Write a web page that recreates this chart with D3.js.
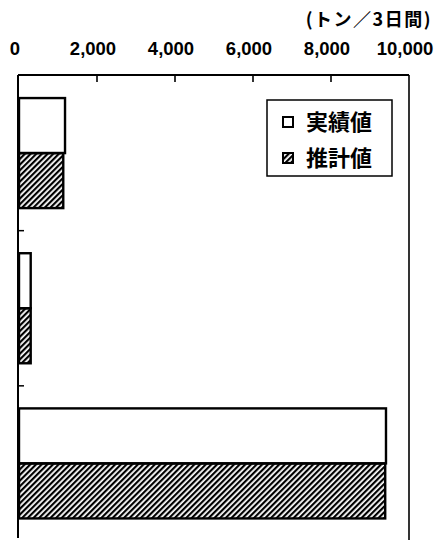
<!DOCTYPE html>
<html>
<head>
<meta charset="utf-8">
<script src="https://cdn.jsdelivr.net/npm/d3@7"></script>
<style>
  body { margin: 0; background: #fff; }
  svg { display: block; }
</style>
</head>
<body>
<div class="chart"></div>
<script>
// data
const categories = ['A', 'B', 'C'];
const seriesNames = ['実績値', '推計値'];
const actualValues = [1180, 300, 9410];
const estimateValues = [1135, 300, 9390];
const xTicks = [0, 2000, 4000, 6000, 8000, 10000];
const unitLabel = '(トン／3日間)';

const width = 437, height = 540;
const plotLeft = 18, plotRight = 409, plotTop = 75, plotBottom = 541;

const svg = d3.select('.chart')
  .append('svg')
    .attr('width', width)
    .attr('height', height);

// hatch pattern
const defs = svg.append('defs');
defs.append('pattern')
    .attr('id', 'hatch')
    .attr('patternUnits', 'userSpaceOnUse')
    .attr('width', 4)
    .attr('height', 4)
    .attr('patternTransform', 'rotate(45)')
  .append('rect')
    .attr('x', 0).attr('y', 0)
    .attr('width', 2.2).attr('height', 4)
    .attr('fill', '#000');

const x = d3.scaleLinear()
  .domain([0, 10000])
  .range([19, plotRight]);

const y0 = d3.scaleBand()
  .domain(categories)
  .range([plotTop + 0.5, plotBottom])
  .padding(0);

const y1 = d3.scaleBand()
  .domain(seriesNames)
  .range([0, y0.bandwidth()])
  .paddingInner(0)
  .paddingOuter(0.41);

const rows = categories.map((c, i) => ({
  cat: c,
  vals: [
    { s: seriesNames[0], v: actualValues[i] },
    { s: seriesNames[1], v: estimateValues[i] }
  ]
}));

// bars
const groups = svg.selectAll('g.cat')
  .data(rows)
  .enter()
  .append('g')
    .attr('class', 'cat')
    .attr('transform', d => `translate(0, ${y0(d.cat)})`);

groups.selectAll('rect')
  .data(d => d.vals)
  .enter()
  .append('rect')
    .attr('x', x(0))
    .attr('y', d => y1(d.s))
    .attr('width', d => x(d.v) - x(0))
    .attr('height', y1.bandwidth())
    .attr('fill', d => d.s === seriesNames[0] ? '#fff' : 'url(#hatch)')
    .attr('stroke', '#000')
    .attr('stroke-width', 2.4);

// frame: top and right
svg.append('line')
    .attr('x1', plotLeft).attr('x2', plotRight)
    .attr('y1', plotTop).attr('y2', plotTop)
    .attr('stroke', '#000').attr('stroke-width', 2);
svg.append('line')
    .attr('x1', plotRight).attr('x2', plotRight)
    .attr('y1', plotTop).attr('y2', height)
    .attr('stroke', '#000').attr('stroke-width', 1.6);

// left axis line + inward ticks at category boundaries
svg.append('line')
    .attr('x1', plotLeft).attr('x2', plotLeft)
    .attr('y1', plotTop).attr('y2', 538)
    .attr('stroke', '#000').attr('stroke-width', 2);

svg.selectAll('line.ytick')
  .data(categories.slice(1))
  .enter()
  .append('line')
    .attr('class', 'ytick')
    .attr('x1', plotLeft).attr('x2', plotLeft + 6)
    .attr('y1', d => y0(d)).attr('y2', d => y0(d))
    .attr('stroke', '#000').attr('stroke-width', 1.5);

// top axis ticks (inward) and labels
svg.selectAll('line.xtick')
  .data(xTicks.slice(1, -1))
  .enter()
  .append('line')
    .attr('class', 'xtick')
    .attr('x1', d => x(d)).attr('x2', d => x(d))
    .attr('y1', plotTop).attr('y2', plotTop + 7)
    .attr('stroke', '#000').attr('stroke-width', 1.6);

svg.selectAll('text.xlabel')
  .data(xTicks)
  .enter()
  .append('text')
    .attr('class', 'xlabel')
    .attr('x', d => x(d) - 4)
    .attr('y', 55)
    .attr('text-anchor', 'middle')
    .style('font-family', '"Liberation Sans", Arial, sans-serif')
    .style('font-weight', 'bold')
    .style('font-size', '18.5px')
    .text(d => d3.format(',')(d));

svg.append('text')
    .attr('x', 432)
    .attr('y', 26)
    .attr('text-anchor', 'end')
    .style('font-family', '"Noto Sans CJK JP", sans-serif')
    .style('font-weight', 'bold')
    .style('font-size', '18px')
    .style('letter-spacing', '1.5px')
    .text(unitLabel);

// legend
const legend = svg.append('g');
legend.append('rect')
    .attr('x', 267).attr('y', 100)
    .attr('width', 125).attr('height', 76)
    .attr('fill', '#fff')
    .attr('stroke', '#000')
    .attr('stroke-width', 1.5);

const legendItems = legend.selectAll('g.item')
  .data(seriesNames)
  .enter()
  .append('g')
    .attr('class', 'item')
    .attr('transform', (d, i) => `translate(283, ${122 + i * 36})`);

legendItems.append('rect')
    .attr('x', 0).attr('y', -5)
    .attr('width', 10).attr('height', 10)
    .attr('fill', (d, i) => i === 0 ? '#fff' : 'url(#hatch)')
    .attr('stroke', '#000')
    .attr('stroke-width', 2);

legendItems.append('text')
    .attr('x', 23)
    .attr('y', 8)
    .style('font-family', '"Noto Sans CJK JP", sans-serif')
    .style('font-weight', 'bold')
    .style('font-size', '22px')
    .text(d => d);
</script>
</body>
</html>
